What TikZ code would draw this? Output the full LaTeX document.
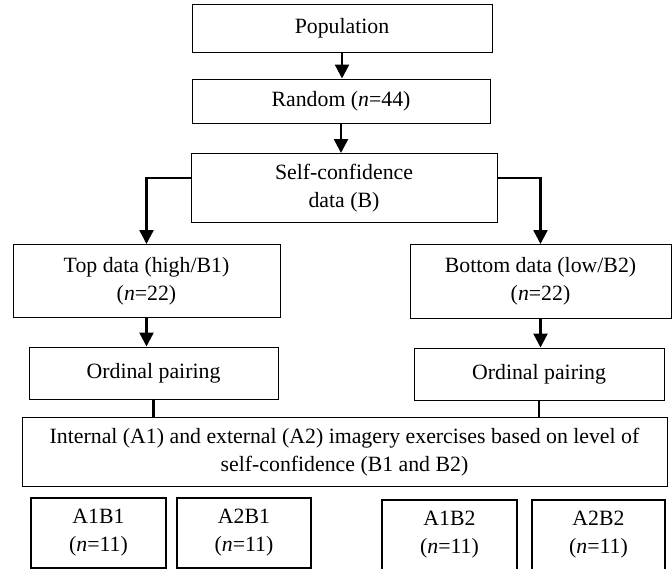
\documentclass[tikz,border=0pt]{standalone}
\usepackage{fontspec}
\setmainfont{Liberation Serif}
\usetikzlibrary{arrows.meta}
\begin{document}
\begin{tikzpicture}[x=1pt, y=-1pt,
    box/.style ={rectangle, draw, line width=1pt, inner sep=0pt, align=center,
                 font=\fontsize{21.8}{28}\selectfont},
    group/.style ={box, line width=2.6pt},
    arr/.style ={line width=2.4pt, -{Triangle[width=14pt,length=14pt]}},
    link/.style ={line width=2.6pt}]
   \useasboundingbox (0,0) rectangle (672,568);
   \node[box, minimum width=300pt, minimum height=48pt] (pop)  at (342,28)  {Population};
   \node[box, minimum width=298pt, minimum height=44pt] (rand) at (341,101) {Random (\textit{n}=44)};
   \node[box, minimum width=306pt, minimum height=69pt] (self) at (344,188) {Self-confidence\\data (B)};
   \node[box, minimum width=267pt, minimum height=73pt] (top)  at (146.5,281) {Top data (high/B1)\\(\textit{n}=22)};
   \node[box, minimum width=261pt, minimum height=74pt] (bot)  at (540.5,281.5) {Bottom data (low/B2)\\(\textit{n}=22)};
   \node[box, minimum width=249pt, minimum height=52pt] (ordA) at (153.5,373) {Ordinal pairing};
   \node[box, minimum width=250pt, minimum height=52pt] (ordB) at (539,374) {Ordinal pairing};
   \node[box, minimum width=645pt, minimum height=69pt] (mix)  at (344.5,452) {Internal (A1) and external (A2) imagery exercises based on level of\\self-confidence (B1 and B2)};
   \node[group, minimum width=135pt, minimum height=70pt] (aAbA) at (98.5,533) {A1B1\\(\textit{n}=11)};
   \node[group, minimum width=134pt, minimum height=70pt] (aBbA) at (244,533) {A2B1\\(\textit{n}=11)};
   \node[group, minimum width=135pt, minimum height=70pt] (aAbB) at (449.5,535) {A1B2\\(\textit{n}=11)};
   \node[group, minimum width=133pt, minimum height=70pt] (aBbB) at (598.5,535) {A2B2\\(\textit{n}=11)};
   \draw[arr] (pop.south) -- (pop.south |- rand.north);
   \draw[arr] (rand.south) -- (rand.south |- self.north);
   \draw[arr] ([yshift=10pt]self.west) -| (top.north);
   \draw[arr] ([yshift=10pt]self.east) -| (bot.north);
   \draw[arr] (top.south) -- (top.south |- ordA.north);
   \draw[arr] (bot.south) -- (bot.south |- ordB.north);
   \draw[link] (ordA.south) -- (ordA.south |- mix.north);
   \draw[link] (ordB.south) -- (ordB.south |- mix.north);
 \end{tikzpicture}
\end{document}
